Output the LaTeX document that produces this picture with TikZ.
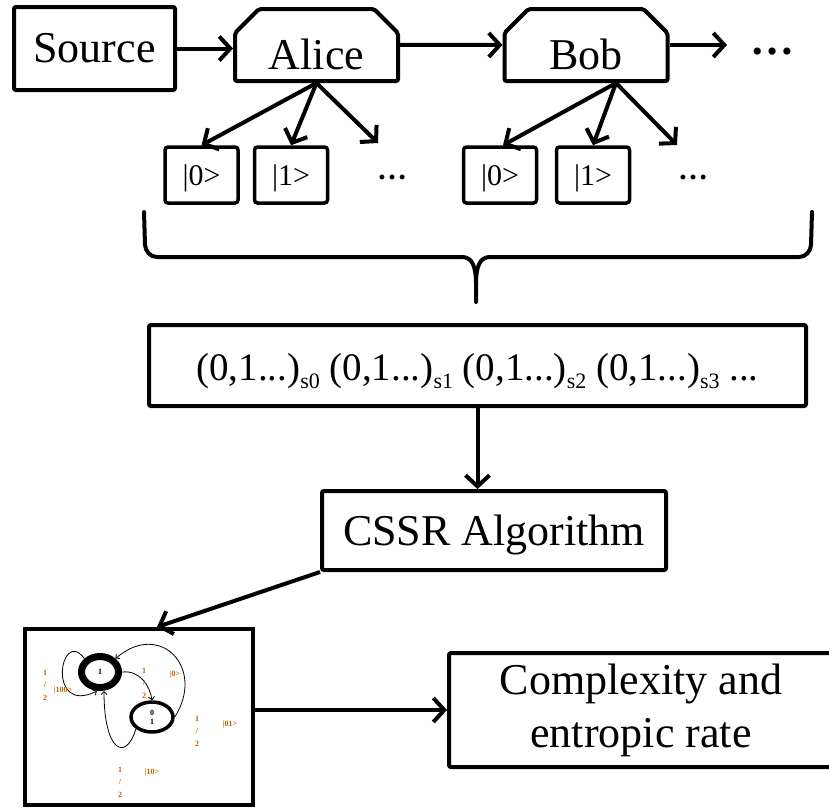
\documentclass[tikz,border=0pt]{standalone}
\usepackage{fontspec}
\setmainfont{Liberation Serif}
\usetikzlibrary{shapes.misc, shapes.geometric, arrows.meta, positioning, calc}

\newcommand{\seqsub}[1]{\raisebox{-8pt}{\fontsize{22}{22}\selectfont #1}}

\begin{document}
\begin{tikzpicture}[x=1pt, y=-1pt,
    box/.style={draw, line width=4pt, rounded corners=2pt, inner sep=0pt, font=\fontsize{44}{53}\selectfont},
    party/.style={box, chamfered rectangle, chamfered rectangle corners={north west, north east}, chamfered rectangle xsep=12pt, chamfered rectangle ysep=12pt, minimum width=163pt, minimum height=70pt, text height=48pt, text depth=0pt},
    ket/.style={draw, line width=3.5pt, rounded corners=3pt, minimum width=73pt, minimum height=56pt, inner sep=0pt, font=\fontsize{30}{30}\selectfont, text height=20pt, text depth=0pt},
    ellip/.style={inner sep=0pt, font=\bfseries\fontsize{30}{30}\selectfont},
    arrow/.style={line width=4pt, -{Straight Barb[length=11pt, width=24pt]}},
    brace/.style={line width=4pt, line cap=round, line join=round},
    mstate/.style={draw, ellipse, inner sep=0pt, align=center, font=\bfseries\fontsize{8}{9}\selectfont},
    lbl/.style={inner sep=0pt, align=center, text=orange!75!black, font=\bfseries\fontsize{8}{12.5}\selectfont},
    trans/.style={line width=0.8pt, -{Straight Barb[length=3pt, width=6pt]}}
]
    \clip (0,0) rectangle (829,811);

    % Top row
    \node[box, minimum width=161pt, minimum height=83pt, text height=27pt, text depth=0pt] (source) at (94.5,48.5) {Source};
    \node[party] (alice) at (316.5,45) {Alice};
    \node[party] (bob) at (586,45) {Bob};
    \node[ellip, font=\bfseries\fontsize{44}{44}\selectfont] (topdots) at (772,52) {…};
    \coordinate (bobend) at (727,45);

    \draw[arrow] (source.east) -- (source.east -| alice.west);
    \draw[arrow] (alice) -- (bob);
    \draw[arrow] (bob.east) -- (bobend);

    % Measured states
    \node[ket] (a0) at (201.5,175) {|0>};
    \node[ket] (a1) at (291,175) {|1>};
    \node[ellip] (adots) at (392,177) {…};
    \node[ket] (b0) at (500,175) {|0>};
    \node[ket] (b1) at (593,175) {|1>};
    \node[ellip] (bdots) at (693,177) {…};
    \coordinate (aend) at (378,143);
    \coordinate (bfan) at ([xshift=30pt]bob.south);
    \coordinate (bend) at (677,145);

    \draw[arrow] (alice.south) -- (a0.north);
    \draw[arrow] (alice.south) -- (a1.north);
    \draw[arrow] (alice.south) -- (aend);
    \draw[arrow] (bfan) -- ([xshift=3pt]b0.north);
    \draw[arrow] (bfan) -- (b1.north);
    \draw[arrow] (bfan) -- (bend);

    % Brace
    \draw[brace] (144,212) -- (145,245) to[out=-85,in=180] (157,257) -- (462,257) .. controls (472,257) and (476,266) .. (476,284) -- (476,302);
    \draw[brace] (812,212) -- (811,245) to[out=-95,in=0] (799,257) -- (490,257) .. controls (480,257) and (476,266) .. (476,284);

    % Sequence and algorithm
    \node[box, minimum width=657pt, minimum height=81pt, font=\fontsize{39}{39}\selectfont, text height=29pt, text depth=0pt] (seq) at (477.5,365.5) {(0,1...)\seqsub{s0} (0,1...)\seqsub{s1} (0,1...)\seqsub{s2} (0,1...)\seqsub{s3} ...};
    \node[box, minimum width=344pt, minimum height=79pt, text height=30pt, text depth=0pt] (cssr) at (494,530.5) {CSSR Algorithm};
    \draw[arrow] (seq.south) -- (seq.south |- cssr.north);

    % Result
    \node[box, rounded corners=0pt, minimum width=228pt, minimum height=176pt] (thumb) at (139,717) {};
    \node[box, minimum width=384pt, minimum height=114pt, align=center] (cplx) at (641,710) {Complexity and\\entropic rate};
    \draw[arrow] (cssr.south west) -- ([xshift=18pt]thumb.north);
    \draw[arrow] (thumb.east |- cplx.west) -- (cplx.west);

    % Small machine inside the thumbnail
    \node[mstate, line width=7pt, minimum width=37pt, minimum height=31pt] (st1) at (100,672) {1};
    \node[mstate, line width=3.5pt, minimum width=42pt, minimum height=30pt] (st2) at (152,717) {0\\1};
    \draw[trans] (st1.north west) .. controls (60,626) and (46,716) .. ([xshift=-3pt]st1.south);
    \draw[trans] (st2.east) .. controls (206,668) and (160,620) .. (st1.north east);
    \draw[trans] (st1.east) .. controls (140,670) and (150,686) .. (st2.north);
    \draw[trans] (st2.south west) .. controls (126,762) and (104,752) .. ([xshift=4pt]st1.south);

    \node[lbl] (fa) at (45,685) {1\\/\\2};
    \node[lbl] (la) at (63,691) {|100>};
    \node[lbl] (fb) at (144,683) {1\\/\\2};
    \node[lbl] (lb) at (175,675) {|0>};
    \node[lbl] (fc) at (197,731) {1\\/\\2};
    \node[lbl] (lc) at (230,725) {|01>};
    \node[lbl] (fd) at (120,782) {1\\/\\2};
    \node[lbl] (ld) at (152,773) {|10>};
\end{tikzpicture}
\end{document}
